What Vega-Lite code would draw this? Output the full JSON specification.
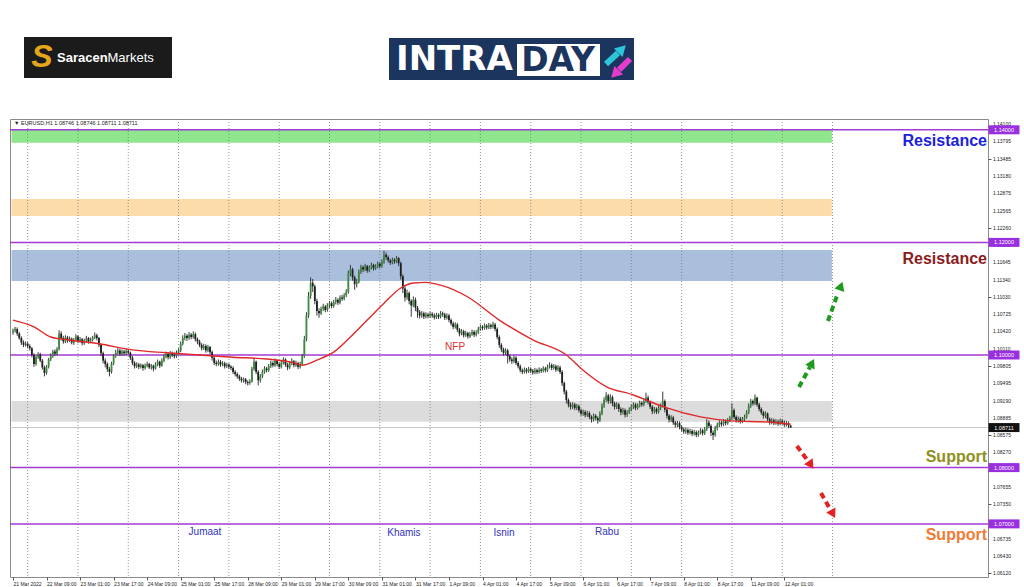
{
"$schema":"https://vega.github.io/schema/vega-lite/v6.json",
"width":978,"height":458,
"autosize":{"type":"none"},
"padding":{"left":10,"top":119,"right":36,"bottom":10},
"background":"white",
"config":{"view":{"stroke":"#8a8a8a","strokeWidth":1},"font":"Liberation Sans"},
"resolve":{"scale":{"color":"independent"}},
"datasets":{
"zones":[{"zone":"green","x1":-0.7,"x2":390.7,"y1":1.14,"y2":1.1377},{"zone":"orange","x1":-0.7,"x2":390.7,"y1":1.12771,"y2":1.12469},{"zone":"blue","x1":-0.7,"x2":390.7,"y1":1.11865,"y2":1.11314},{"zone":"gray","x1":-0.7,"x2":390.7,"y1":1.09183,"y2":1.08815}],
"grid":[{"i":7},{"i":31},{"i":55},{"i":79},{"i":103},{"i":127},{"i":151},{"i":175},{"i":199},{"i":223},{"i":247},{"i":271},{"i":295},{"i":319},{"i":343},{"i":367},{"i":391}],
"levels":[{"v":1.14,"t":"1.14000"},{"v":1.12,"t":"1.12000"},{"v":1.10,"t":"1.10000"},{"v":1.08,"t":"1.08000"},{"v":1.07,"t":"1.07000"}],
"yticks":[{"v":1.0612},{"v":1.0643},{"v":1.06735},{"v":1.0704},{"v":1.0735},{"v":1.07655},{"v":1.0796},{"v":1.0827},{"v":1.08575},{"v":1.08885},{"v":1.0919},{"v":1.09495},{"v":1.09805},{"v":1.1011},{"v":1.1042},{"v":1.10725},{"v":1.1103},{"v":1.1134},{"v":1.11645},{"v":1.11955},{"v":1.1226},{"v":1.12565},{"v":1.12875},{"v":1.1318},{"v":1.13485},{"v":1.13795},{"v":1.141}],
"ma":[{"i":0,"v":1.1062},{"i":10,"v":1.1050},{"i":18,"v":1.1032},{"i":26,"v":1.1027},{"i":41,"v":1.1020},{"i":57,"v":1.1009},{"i":73,"v":1.1004},{"i":89,"v":1.1000},{"i":105,"v":1.0996},{"i":121,"v":1.0993},{"i":134,"v":1.0986},{"i":138,"v":1.0982},{"i":145,"v":1.0991},{"i":153,"v":1.1005},{"i":161,"v":1.1032},{"i":169,"v":1.1062},{"i":177,"v":1.1092},{"i":185,"v":1.1119},{"i":191,"v":1.1128},{"i":197,"v":1.1129},{"i":204,"v":1.1124},{"i":217,"v":1.1103},{"i":232,"v":1.1062},{"i":248,"v":1.1027},{"i":264,"v":1.1000},{"i":272,"v":1.0973},{"i":283,"v":1.0944},{"i":296,"v":1.0929},{"i":304,"v":1.0917},{"i":312,"v":1.0906},{"i":328,"v":1.0890},{"i":343,"v":1.0883},{"i":360,"v":1.0881},{"i":371,"v":1.0877}],
"candles":[
{"i":0,"o":1.1040,"h":1.1047,"l":1.1036,"c":1.1043},
{"i":1,"o":1.1043,"h":1.1050,"l":1.1040,"c":1.1046},
{"i":2,"o":1.1046,"h":1.1049,"l":1.1034,"c":1.1038},
{"i":3,"o":1.1038,"h":1.1041,"l":1.1027,"c":1.1030},
{"i":4,"o":1.1030,"h":1.1033,"l":1.1018,"c":1.1022},
{"i":5,"o":1.1022,"h":1.1026,"l":1.1014,"c":1.1018},
{"i":6,"o":1.1018,"h":1.1024,"l":1.1015,"c":1.1020},
{"i":7,"o":1.1020,"h":1.1023,"l":1.1012,"c":1.1016},
{"i":8,"o":1.1016,"h":1.1019,"l":1.1008,"c":1.1012},
{"i":9,"o":1.1012,"h":1.1014,"l":1.0996,"c":1.1000},
{"i":10,"o":1.1000,"h":1.1003,"l":1.0979,"c":1.0984},
{"i":11,"o":1.0984,"h":1.0999,"l":1.0981,"c":1.0996},
{"i":12,"o":1.0996,"h":1.1005,"l":1.0993,"c":1.1001},
{"i":13,"o":1.1001,"h":1.1004,"l":1.0987,"c":1.0990},
{"i":14,"o":1.0990,"h":1.0993,"l":1.0974,"c":1.0978},
{"i":15,"o":1.0978,"h":1.0981,"l":1.0962,"c":1.0968},
{"i":16,"o":1.0968,"h":1.0982,"l":1.0965,"c":1.0979},
{"i":17,"o":1.0979,"h":1.0995,"l":1.0976,"c":1.0992},
{"i":18,"o":1.0992,"h":1.1003,"l":1.0989,"c":1.0998},
{"i":19,"o":1.0998,"h":1.1009,"l":1.0995,"c":1.1006},
{"i":20,"o":1.1006,"h":1.1010,"l":1.0998,"c":1.1002},
{"i":21,"o":1.1002,"h":1.1014,"l":1.0999,"c":1.1010},
{"i":22,"o":1.1010,"h":1.1044,"l":1.1008,"c":1.1038},
{"i":23,"o":1.1038,"h":1.1042,"l":1.1026,"c":1.1030},
{"i":24,"o":1.1030,"h":1.1034,"l":1.1020,"c":1.1024},
{"i":25,"o":1.1024,"h":1.1035,"l":1.1021,"c":1.1031},
{"i":26,"o":1.1031,"h":1.1034,"l":1.1022,"c":1.1026},
{"i":27,"o":1.1026,"h":1.1033,"l":1.1023,"c":1.1029},
{"i":28,"o":1.1029,"h":1.1031,"l":1.1019,"c":1.1022},
{"i":29,"o":1.1022,"h":1.1030,"l":1.1018,"c":1.1027},
{"i":30,"o":1.1027,"h":1.1037,"l":1.1024,"c":1.1033},
{"i":31,"o":1.1033,"h":1.1035,"l":1.1021,"c":1.1025},
{"i":32,"o":1.1025,"h":1.1032,"l":1.1022,"c":1.1028},
{"i":33,"o":1.1028,"h":1.1030,"l":1.1017,"c":1.1021},
{"i":34,"o":1.1021,"h":1.1029,"l":1.1018,"c":1.1026},
{"i":35,"o":1.1026,"h":1.1034,"l":1.1023,"c":1.1030},
{"i":36,"o":1.1030,"h":1.1032,"l":1.1020,"c":1.1024},
{"i":37,"o":1.1024,"h":1.1031,"l":1.1021,"c":1.1027},
{"i":38,"o":1.1027,"h":1.1034,"l":1.1024,"c":1.1031},
{"i":39,"o":1.1031,"h":1.1040,"l":1.1028,"c":1.1035},
{"i":40,"o":1.1035,"h":1.1038,"l":1.1026,"c":1.1030},
{"i":41,"o":1.1030,"h":1.1032,"l":1.1014,"c":1.1018},
{"i":42,"o":1.1018,"h":1.1020,"l":1.0998,"c":1.1003},
{"i":43,"o":1.1003,"h":1.1006,"l":1.0985,"c":1.0990},
{"i":44,"o":1.0990,"h":1.0994,"l":1.0978,"c":1.0984},
{"i":45,"o":1.0984,"h":1.0987,"l":1.0970,"c":1.0975},
{"i":46,"o":1.0975,"h":1.0979,"l":1.0962,"c":1.0970},
{"i":47,"o":1.0970,"h":1.0988,"l":1.0967,"c":1.0985},
{"i":48,"o":1.0985,"h":1.1001,"l":1.0982,"c":1.0998},
{"i":49,"o":1.0998,"h":1.1009,"l":1.0995,"c":1.1004},
{"i":50,"o":1.1004,"h":1.1012,"l":1.1000,"c":1.1008},
{"i":51,"o":1.1008,"h":1.1011,"l":1.0998,"c":1.1002},
{"i":52,"o":1.1002,"h":1.1010,"l":1.0999,"c":1.1006},
{"i":53,"o":1.1006,"h":1.1009,"l":1.0999,"c":1.1003},
{"i":54,"o":1.1003,"h":1.1011,"l":1.1000,"c":1.1007},
{"i":55,"o":1.1007,"h":1.1010,"l":1.1001,"c":1.1004},
{"i":56,"o":1.1004,"h":1.1006,"l":1.0991,"c":1.0995},
{"i":57,"o":1.0995,"h":1.0998,"l":1.0982,"c":1.0986},
{"i":58,"o":1.0986,"h":1.0989,"l":1.0976,"c":1.0980},
{"i":59,"o":1.0980,"h":1.0987,"l":1.0977,"c":1.0983},
{"i":60,"o":1.0983,"h":1.0986,"l":1.0975,"c":1.0979},
{"i":61,"o":1.0979,"h":1.0985,"l":1.0976,"c":1.0982},
{"i":62,"o":1.0982,"h":1.0984,"l":1.0972,"c":1.0977},
{"i":63,"o":1.0977,"h":1.0985,"l":1.0974,"c":1.0981},
{"i":64,"o":1.0981,"h":1.0988,"l":1.0978,"c":1.0984},
{"i":65,"o":1.0984,"h":1.0986,"l":1.0975,"c":1.0978},
{"i":66,"o":1.0978,"h":1.0984,"l":1.0974,"c":1.0981},
{"i":67,"o":1.0981,"h":1.0983,"l":1.0971,"c":1.0976},
{"i":68,"o":1.0976,"h":1.0987,"l":1.0974,"c":1.0983},
{"i":69,"o":1.0983,"h":1.0992,"l":1.0980,"c":1.0988},
{"i":70,"o":1.0988,"h":1.0990,"l":1.0977,"c":1.0981},
{"i":71,"o":1.0981,"h":1.0994,"l":1.0979,"c":1.0990},
{"i":72,"o":1.0990,"h":1.1001,"l":1.0987,"c":1.0997},
{"i":73,"o":1.0997,"h":1.1006,"l":1.0994,"c":1.1002},
{"i":74,"o":1.1002,"h":1.1005,"l":1.0992,"c":1.0996},
{"i":75,"o":1.0996,"h":1.1007,"l":1.0993,"c":1.1003},
{"i":76,"o":1.1003,"h":1.1006,"l":1.0996,"c":1.1000},
{"i":77,"o":1.1000,"h":1.1004,"l":1.0994,"c":1.0998},
{"i":78,"o":1.0998,"h":1.1008,"l":1.0995,"c":1.1004},
{"i":79,"o":1.1004,"h":1.1012,"l":1.1001,"c":1.1008},
{"i":80,"o":1.1008,"h":1.1024,"l":1.1005,"c":1.1020},
{"i":81,"o":1.1020,"h":1.1035,"l":1.1017,"c":1.1030},
{"i":82,"o":1.1030,"h":1.1039,"l":1.1026,"c":1.1034},
{"i":83,"o":1.1034,"h":1.1037,"l":1.1025,"c":1.1030},
{"i":84,"o":1.1030,"h":1.1041,"l":1.1027,"c":1.1036},
{"i":85,"o":1.1036,"h":1.1039,"l":1.1028,"c":1.1032},
{"i":86,"o":1.1032,"h":1.1042,"l":1.1029,"c":1.1037},
{"i":87,"o":1.1037,"h":1.1040,"l":1.1024,"c":1.1028},
{"i":88,"o":1.1028,"h":1.1031,"l":1.1019,"c":1.1024},
{"i":89,"o":1.1024,"h":1.1027,"l":1.1014,"c":1.1018},
{"i":90,"o":1.1018,"h":1.1021,"l":1.1008,"c":1.1012},
{"i":91,"o":1.1012,"h":1.1020,"l":1.1009,"c":1.1016},
{"i":92,"o":1.1016,"h":1.1019,"l":1.1004,"c":1.1008},
{"i":93,"o":1.1008,"h":1.1018,"l":1.1005,"c":1.1014},
{"i":94,"o":1.1014,"h":1.1016,"l":1.1001,"c":1.1005},
{"i":95,"o":1.1005,"h":1.1008,"l":1.0990,"c":1.0995},
{"i":96,"o":1.0995,"h":1.0998,"l":1.0982,"c":1.0986},
{"i":97,"o":1.0986,"h":1.0990,"l":1.0980,"c":1.0984},
{"i":98,"o":1.0984,"h":1.0992,"l":1.0981,"c":1.0988},
{"i":99,"o":1.0988,"h":1.0991,"l":1.0979,"c":1.0983},
{"i":100,"o":1.0983,"h":1.0989,"l":1.0980,"c":1.0985},
{"i":101,"o":1.0985,"h":1.0988,"l":1.0976,"c":1.0980},
{"i":102,"o":1.0980,"h":1.0986,"l":1.0977,"c":1.0983},
{"i":103,"o":1.0983,"h":1.0985,"l":1.0975,"c":1.0979},
{"i":104,"o":1.0979,"h":1.0982,"l":1.0973,"c":1.0977},
{"i":105,"o":1.0977,"h":1.0980,"l":1.0966,"c":1.0970},
{"i":106,"o":1.0970,"h":1.0973,"l":1.0962,"c":1.0966},
{"i":107,"o":1.0966,"h":1.0969,"l":1.0958,"c":1.0962},
{"i":108,"o":1.0962,"h":1.0965,"l":1.0954,"c":1.0958},
{"i":109,"o":1.0958,"h":1.0961,"l":1.0951,"c":1.0955},
{"i":110,"o":1.0955,"h":1.0960,"l":1.0951,"c":1.0957},
{"i":111,"o":1.0957,"h":1.0959,"l":1.0948,"c":1.0952},
{"i":112,"o":1.0952,"h":1.0955,"l":1.0946,"c":1.0950},
{"i":113,"o":1.0950,"h":1.0957,"l":1.0947,"c":1.0953},
{"i":114,"o":1.0953,"h":1.0979,"l":1.0951,"c":1.0975},
{"i":115,"o":1.0975,"h":1.0994,"l":1.0972,"c":1.0988},
{"i":116,"o":1.0988,"h":1.0990,"l":1.0966,"c":1.0970},
{"i":117,"o":1.0970,"h":1.0973,"l":1.0946,"c":1.0955},
{"i":118,"o":1.0955,"h":1.0966,"l":1.0951,"c":1.0962},
{"i":119,"o":1.0962,"h":1.0974,"l":1.0959,"c":1.0970},
{"i":120,"o":1.0970,"h":1.0980,"l":1.0967,"c":1.0976},
{"i":121,"o":1.0976,"h":1.0979,"l":1.0969,"c":1.0973},
{"i":122,"o":1.0973,"h":1.0984,"l":1.0970,"c":1.0980},
{"i":123,"o":1.0980,"h":1.0990,"l":1.0977,"c":1.0986},
{"i":124,"o":1.0986,"h":1.0989,"l":1.0978,"c":1.0982},
{"i":125,"o":1.0982,"h":1.0994,"l":1.0979,"c":1.0990},
{"i":126,"o":1.0990,"h":1.0992,"l":1.0980,"c":1.0984},
{"i":127,"o":1.0984,"h":1.0987,"l":1.0975,"c":1.0979},
{"i":128,"o":1.0979,"h":1.0990,"l":1.0976,"c":1.0986},
{"i":129,"o":1.0986,"h":1.0996,"l":1.0983,"c":1.0992},
{"i":130,"o":1.0992,"h":1.0994,"l":1.0979,"c":1.0983},
{"i":131,"o":1.0983,"h":1.0986,"l":1.0973,"c":1.0978},
{"i":132,"o":1.0978,"h":1.0989,"l":1.0975,"c":1.0985},
{"i":133,"o":1.0985,"h":1.0994,"l":1.0982,"c":1.0989},
{"i":134,"o":1.0989,"h":1.0991,"l":1.0978,"c":1.0982},
{"i":135,"o":1.0982,"h":1.0990,"l":1.0979,"c":1.0986},
{"i":136,"o":1.0986,"h":1.0988,"l":1.0975,"c":1.0979},
{"i":137,"o":1.0979,"h":1.0988,"l":1.0976,"c":1.0984},
{"i":138,"o":1.0984,"h":1.1002,"l":1.0981,"c":1.0998},
{"i":139,"o":1.0998,"h":1.1034,"l":1.0995,"c":1.1028},
{"i":140,"o":1.1028,"h":1.1076,"l":1.1024,"c":1.1070},
{"i":141,"o":1.1070,"h":1.1112,"l":1.1066,"c":1.1105},
{"i":142,"o":1.1105,"h":1.1138,"l":1.1100,"c":1.1128},
{"i":143,"o":1.1128,"h":1.1135,"l":1.1112,"c":1.1122},
{"i":144,"o":1.1122,"h":1.1125,"l":1.1090,"c":1.1096},
{"i":145,"o":1.1096,"h":1.1100,"l":1.1070,"c":1.1078},
{"i":146,"o":1.1078,"h":1.1083,"l":1.1066,"c":1.1074},
{"i":147,"o":1.1074,"h":1.1086,"l":1.1071,"c":1.1082},
{"i":148,"o":1.1082,"h":1.1091,"l":1.1078,"c":1.1086},
{"i":149,"o":1.1086,"h":1.1089,"l":1.1076,"c":1.1080},
{"i":150,"o":1.1080,"h":1.1092,"l":1.1077,"c":1.1088},
{"i":151,"o":1.1088,"h":1.1096,"l":1.1084,"c":1.1092},
{"i":152,"o":1.1092,"h":1.1095,"l":1.1083,"c":1.1087},
{"i":153,"o":1.1087,"h":1.1098,"l":1.1084,"c":1.1094},
{"i":154,"o":1.1094,"h":1.1103,"l":1.1090,"c":1.1098},
{"i":155,"o":1.1098,"h":1.1101,"l":1.1089,"c":1.1093},
{"i":156,"o":1.1093,"h":1.1106,"l":1.1090,"c":1.1102},
{"i":157,"o":1.1102,"h":1.1107,"l":1.1096,"c":1.1100},
{"i":158,"o":1.1100,"h":1.1110,"l":1.1097,"c":1.1106},
{"i":159,"o":1.1106,"h":1.1117,"l":1.1103,"c":1.1112},
{"i":160,"o":1.1112,"h":1.1150,"l":1.1109,"c":1.1145},
{"i":161,"o":1.1145,"h":1.1160,"l":1.1140,"c":1.1152},
{"i":162,"o":1.1152,"h":1.1155,"l":1.1132,"c":1.1138},
{"i":163,"o":1.1138,"h":1.1141,"l":1.1116,"c":1.1126},
{"i":164,"o":1.1126,"h":1.1135,"l":1.1120,"c":1.1130},
{"i":165,"o":1.1130,"h":1.1152,"l":1.1127,"c":1.1148},
{"i":166,"o":1.1148,"h":1.1160,"l":1.1144,"c":1.1156},
{"i":167,"o":1.1156,"h":1.1159,"l":1.1147,"c":1.1152},
{"i":168,"o":1.1152,"h":1.1162,"l":1.1149,"c":1.1158},
{"i":169,"o":1.1158,"h":1.1160,"l":1.1146,"c":1.1150},
{"i":170,"o":1.1150,"h":1.1159,"l":1.1147,"c":1.1155},
{"i":171,"o":1.1155,"h":1.1164,"l":1.1152,"c":1.1160},
{"i":172,"o":1.1160,"h":1.1162,"l":1.1150,"c":1.1154},
{"i":173,"o":1.1154,"h":1.1161,"l":1.1151,"c":1.1157},
{"i":174,"o":1.1157,"h":1.1166,"l":1.1154,"c":1.1162},
{"i":175,"o":1.1162,"h":1.1165,"l":1.1154,"c":1.1158},
{"i":176,"o":1.1158,"h":1.1170,"l":1.1155,"c":1.1165},
{"i":177,"o":1.1165,"h":1.1185,"l":1.1162,"c":1.1178},
{"i":178,"o":1.1178,"h":1.1182,"l":1.1169,"c":1.1174},
{"i":179,"o":1.1174,"h":1.1177,"l":1.1164,"c":1.1168},
{"i":180,"o":1.1168,"h":1.1171,"l":1.1160,"c":1.1164},
{"i":181,"o":1.1164,"h":1.1173,"l":1.1161,"c":1.1169},
{"i":182,"o":1.1169,"h":1.1172,"l":1.1162,"c":1.1166},
{"i":183,"o":1.1166,"h":1.1176,"l":1.1163,"c":1.1172},
{"i":184,"o":1.1172,"h":1.1174,"l":1.1158,"c":1.1163},
{"i":185,"o":1.1163,"h":1.1166,"l":1.1134,"c":1.1140},
{"i":186,"o":1.1140,"h":1.1143,"l":1.1110,"c":1.1118},
{"i":187,"o":1.1118,"h":1.1122,"l":1.1095,"c":1.1102},
{"i":188,"o":1.1102,"h":1.1116,"l":1.1098,"c":1.1110},
{"i":189,"o":1.1110,"h":1.1113,"l":1.1090,"c":1.1096},
{"i":190,"o":1.1096,"h":1.1099,"l":1.1068,"c":1.1088},
{"i":191,"o":1.1088,"h":1.1104,"l":1.1085,"c":1.1098},
{"i":192,"o":1.1098,"h":1.1102,"l":1.1078,"c":1.1084},
{"i":193,"o":1.1084,"h":1.1087,"l":1.1066,"c":1.1076},
{"i":194,"o":1.1076,"h":1.1080,"l":1.1065,"c":1.1070},
{"i":195,"o":1.1070,"h":1.1078,"l":1.1066,"c":1.1074},
{"i":196,"o":1.1074,"h":1.1077,"l":1.1064,"c":1.1068},
{"i":197,"o":1.1068,"h":1.1076,"l":1.1065,"c":1.1072},
{"i":198,"o":1.1072,"h":1.1075,"l":1.1065,"c":1.1069},
{"i":199,"o":1.1069,"h":1.1077,"l":1.1066,"c":1.1073},
{"i":200,"o":1.1073,"h":1.1076,"l":1.1066,"c":1.1070},
{"i":201,"o":1.1070,"h":1.1074,"l":1.1063,"c":1.1067},
{"i":202,"o":1.1067,"h":1.1075,"l":1.1064,"c":1.1071},
{"i":203,"o":1.1071,"h":1.1074,"l":1.1064,"c":1.1068},
{"i":204,"o":1.1068,"h":1.1078,"l":1.1065,"c":1.1074},
{"i":205,"o":1.1074,"h":1.1077,"l":1.1068,"c":1.1072},
{"i":206,"o":1.1072,"h":1.1075,"l":1.1062,"c":1.1066},
{"i":207,"o":1.1066,"h":1.1074,"l":1.1063,"c":1.1070},
{"i":208,"o":1.1070,"h":1.1073,"l":1.1058,"c":1.1062},
{"i":209,"o":1.1062,"h":1.1065,"l":1.1052,"c":1.1056},
{"i":210,"o":1.1056,"h":1.1059,"l":1.1046,"c":1.1050},
{"i":211,"o":1.1050,"h":1.1058,"l":1.1047,"c":1.1054},
{"i":212,"o":1.1054,"h":1.1057,"l":1.1041,"c":1.1045},
{"i":213,"o":1.1045,"h":1.1048,"l":1.1033,"c":1.1038},
{"i":214,"o":1.1038,"h":1.1046,"l":1.1035,"c":1.1042},
{"i":215,"o":1.1042,"h":1.1045,"l":1.1031,"c":1.1035},
{"i":216,"o":1.1035,"h":1.1043,"l":1.1032,"c":1.1039},
{"i":217,"o":1.1039,"h":1.1041,"l":1.1029,"c":1.1033},
{"i":218,"o":1.1033,"h":1.1041,"l":1.1030,"c":1.1037},
{"i":219,"o":1.1037,"h":1.1045,"l":1.1034,"c":1.1041},
{"i":220,"o":1.1041,"h":1.1044,"l":1.1032,"c":1.1036},
{"i":221,"o":1.1036,"h":1.1044,"l":1.1033,"c":1.1040},
{"i":222,"o":1.1040,"h":1.1050,"l":1.1037,"c":1.1046},
{"i":223,"o":1.1046,"h":1.1054,"l":1.1043,"c":1.1050},
{"i":224,"o":1.1050,"h":1.1053,"l":1.1044,"c":1.1048},
{"i":225,"o":1.1048,"h":1.1056,"l":1.1045,"c":1.1052},
{"i":226,"o":1.1052,"h":1.1055,"l":1.1045,"c":1.1049},
{"i":227,"o":1.1049,"h":1.1057,"l":1.1046,"c":1.1053},
{"i":228,"o":1.1053,"h":1.1056,"l":1.1046,"c":1.1050},
{"i":229,"o":1.1050,"h":1.1059,"l":1.1047,"c":1.1054},
{"i":230,"o":1.1054,"h":1.1057,"l":1.1042,"c":1.1046},
{"i":231,"o":1.1046,"h":1.1049,"l":1.1028,"c":1.1032},
{"i":232,"o":1.1032,"h":1.1035,"l":1.1013,"c":1.1018},
{"i":233,"o":1.1018,"h":1.1021,"l":1.1005,"c":1.1010},
{"i":234,"o":1.1010,"h":1.1013,"l":1.0999,"c":1.1004},
{"i":235,"o":1.1004,"h":1.1012,"l":1.1000,"c":1.1008},
{"i":236,"o":1.1008,"h":1.1011,"l":1.0985,"c":1.0998},
{"i":237,"o":1.0998,"h":1.1001,"l":1.0988,"c":1.0992},
{"i":238,"o":1.0992,"h":1.0996,"l":1.0984,"c":1.0989},
{"i":239,"o":1.0989,"h":1.0999,"l":1.0986,"c":1.0995},
{"i":240,"o":1.0995,"h":1.0998,"l":1.0982,"c":1.0986},
{"i":241,"o":1.0986,"h":1.0989,"l":1.0976,"c":1.0980},
{"i":242,"o":1.0980,"h":1.0983,"l":1.0969,"c":1.0973},
{"i":243,"o":1.0973,"h":1.0976,"l":1.0966,"c":1.0970},
{"i":244,"o":1.0970,"h":1.0978,"l":1.0967,"c":1.0974},
{"i":245,"o":1.0974,"h":1.0977,"l":1.0967,"c":1.0971},
{"i":246,"o":1.0971,"h":1.0979,"l":1.0968,"c":1.0975},
{"i":247,"o":1.0975,"h":1.0978,"l":1.0968,"c":1.0972},
{"i":248,"o":1.0972,"h":1.0975,"l":1.0965,"c":1.0969},
{"i":249,"o":1.0969,"h":1.0977,"l":1.0966,"c":1.0973},
{"i":250,"o":1.0973,"h":1.0976,"l":1.0966,"c":1.0970},
{"i":251,"o":1.0970,"h":1.0978,"l":1.0967,"c":1.0974},
{"i":252,"o":1.0974,"h":1.0977,"l":1.0968,"c":1.0972},
{"i":253,"o":1.0972,"h":1.0980,"l":1.0969,"c":1.0976},
{"i":254,"o":1.0976,"h":1.0979,"l":1.0969,"c":1.0973},
{"i":255,"o":1.0973,"h":1.0983,"l":1.0970,"c":1.0979},
{"i":256,"o":1.0979,"h":1.0987,"l":1.0976,"c":1.0982},
{"i":257,"o":1.0982,"h":1.0985,"l":1.0973,"c":1.0977},
{"i":258,"o":1.0977,"h":1.0984,"l":1.0974,"c":1.0980},
{"i":259,"o":1.0980,"h":1.0983,"l":1.0970,"c":1.0974},
{"i":260,"o":1.0974,"h":1.0982,"l":1.0971,"c":1.0978},
{"i":261,"o":1.0978,"h":1.0981,"l":1.0966,"c":1.0970},
{"i":262,"o":1.0970,"h":1.0973,"l":1.0945,"c":1.0950},
{"i":263,"o":1.0950,"h":1.0953,"l":1.0930,"c":1.0935},
{"i":264,"o":1.0935,"h":1.0938,"l":1.0914,"c":1.0920},
{"i":265,"o":1.0920,"h":1.0923,"l":1.0907,"c":1.0912},
{"i":266,"o":1.0912,"h":1.0916,"l":1.0903,"c":1.0908},
{"i":267,"o":1.0908,"h":1.0916,"l":1.0904,"c":1.0912},
{"i":268,"o":1.0912,"h":1.0915,"l":1.0902,"c":1.0906},
{"i":269,"o":1.0906,"h":1.0913,"l":1.0902,"c":1.0909},
{"i":270,"o":1.0909,"h":1.0912,"l":1.0898,"c":1.0902},
{"i":271,"o":1.0902,"h":1.0905,"l":1.0892,"c":1.0896},
{"i":272,"o":1.0896,"h":1.0903,"l":1.0892,"c":1.0899},
{"i":273,"o":1.0899,"h":1.0902,"l":1.0889,"c":1.0893},
{"i":274,"o":1.0893,"h":1.0901,"l":1.0890,"c":1.0897},
{"i":275,"o":1.0897,"h":1.0900,"l":1.0886,"c":1.0890},
{"i":276,"o":1.0890,"h":1.0893,"l":1.0880,"c":1.0886},
{"i":277,"o":1.0886,"h":1.0896,"l":1.0882,"c":1.0892},
{"i":278,"o":1.0892,"h":1.0895,"l":1.0884,"c":1.0888},
{"i":279,"o":1.0888,"h":1.0891,"l":1.0878,"c":1.0884},
{"i":280,"o":1.0884,"h":1.0900,"l":1.0881,"c":1.0896},
{"i":281,"o":1.0896,"h":1.0914,"l":1.0893,"c":1.0910},
{"i":282,"o":1.0910,"h":1.0925,"l":1.0906,"c":1.0920},
{"i":283,"o":1.0920,"h":1.0934,"l":1.0916,"c":1.0928},
{"i":284,"o":1.0928,"h":1.0931,"l":1.0913,"c":1.0918},
{"i":285,"o":1.0918,"h":1.0930,"l":1.0914,"c":1.0925},
{"i":286,"o":1.0925,"h":1.0928,"l":1.0909,"c":1.0914},
{"i":287,"o":1.0914,"h":1.0917,"l":1.0903,"c":1.0908},
{"i":288,"o":1.0908,"h":1.0916,"l":1.0904,"c":1.0912},
{"i":289,"o":1.0912,"h":1.0915,"l":1.0899,"c":1.0904},
{"i":290,"o":1.0904,"h":1.0907,"l":1.0893,"c":1.0898},
{"i":291,"o":1.0898,"h":1.0906,"l":1.0894,"c":1.0902},
{"i":292,"o":1.0902,"h":1.0905,"l":1.0889,"c":1.0894},
{"i":293,"o":1.0894,"h":1.0902,"l":1.0890,"c":1.0898},
{"i":294,"o":1.0898,"h":1.0907,"l":1.0895,"c":1.0903},
{"i":295,"o":1.0903,"h":1.0912,"l":1.0900,"c":1.0908},
{"i":296,"o":1.0908,"h":1.0916,"l":1.0904,"c":1.0912},
{"i":297,"o":1.0912,"h":1.0915,"l":1.0902,"c":1.0906},
{"i":298,"o":1.0906,"h":1.0914,"l":1.0903,"c":1.0910},
{"i":299,"o":1.0910,"h":1.0919,"l":1.0907,"c":1.0915},
{"i":300,"o":1.0915,"h":1.0918,"l":1.0908,"c":1.0912},
{"i":301,"o":1.0912,"h":1.0922,"l":1.0909,"c":1.0918},
{"i":302,"o":1.0918,"h":1.0933,"l":1.0915,"c":1.0924},
{"i":303,"o":1.0924,"h":1.0928,"l":1.0912,"c":1.0916},
{"i":304,"o":1.0916,"h":1.0919,"l":1.0904,"c":1.0908},
{"i":305,"o":1.0908,"h":1.0911,"l":1.0895,"c":1.0900},
{"i":306,"o":1.0900,"h":1.0908,"l":1.0896,"c":1.0904},
{"i":307,"o":1.0904,"h":1.0907,"l":1.0895,"c":1.0899},
{"i":308,"o":1.0899,"h":1.0910,"l":1.0896,"c":1.0906},
{"i":309,"o":1.0906,"h":1.0914,"l":1.0902,"c":1.0910},
{"i":310,"o":1.0910,"h":1.0935,"l":1.0907,"c":1.0918},
{"i":311,"o":1.0918,"h":1.0921,"l":1.0898,"c":1.0903},
{"i":312,"o":1.0903,"h":1.0906,"l":1.0887,"c":1.0892},
{"i":313,"o":1.0892,"h":1.0895,"l":1.0880,"c":1.0885},
{"i":314,"o":1.0885,"h":1.0893,"l":1.0881,"c":1.0889},
{"i":315,"o":1.0889,"h":1.0892,"l":1.0876,"c":1.0880},
{"i":316,"o":1.0880,"h":1.0883,"l":1.0871,"c":1.0876},
{"i":317,"o":1.0876,"h":1.0883,"l":1.0872,"c":1.0879},
{"i":318,"o":1.0879,"h":1.0882,"l":1.0868,"c":1.0872},
{"i":319,"o":1.0872,"h":1.0875,"l":1.0864,"c":1.0868},
{"i":320,"o":1.0868,"h":1.0871,"l":1.0860,"c":1.0864},
{"i":321,"o":1.0864,"h":1.0871,"l":1.0860,"c":1.0867},
{"i":322,"o":1.0867,"h":1.0870,"l":1.0858,"c":1.0862},
{"i":323,"o":1.0862,"h":1.0869,"l":1.0859,"c":1.0865},
{"i":324,"o":1.0865,"h":1.0868,"l":1.0856,"c":1.0860},
{"i":325,"o":1.0860,"h":1.0867,"l":1.0857,"c":1.0863},
{"i":326,"o":1.0863,"h":1.0866,"l":1.0854,"c":1.0858},
{"i":327,"o":1.0858,"h":1.0866,"l":1.0855,"c":1.0862},
{"i":328,"o":1.0862,"h":1.0870,"l":1.0859,"c":1.0866},
{"i":329,"o":1.0866,"h":1.0869,"l":1.0857,"c":1.0861},
{"i":330,"o":1.0861,"h":1.0872,"l":1.0858,"c":1.0868},
{"i":331,"o":1.0868,"h":1.0886,"l":1.0865,"c":1.0880},
{"i":332,"o":1.0880,"h":1.0884,"l":1.0870,"c":1.0874},
{"i":333,"o":1.0874,"h":1.0877,"l":1.0856,"c":1.0862},
{"i":334,"o":1.0862,"h":1.0866,"l":1.0849,"c":1.0858},
{"i":335,"o":1.0858,"h":1.0874,"l":1.0855,"c":1.0870},
{"i":336,"o":1.0870,"h":1.0880,"l":1.0866,"c":1.0876},
{"i":337,"o":1.0876,"h":1.0884,"l":1.0872,"c":1.0880},
{"i":338,"o":1.0880,"h":1.0883,"l":1.0873,"c":1.0877},
{"i":339,"o":1.0877,"h":1.0886,"l":1.0874,"c":1.0882},
{"i":340,"o":1.0882,"h":1.0885,"l":1.0875,"c":1.0879},
{"i":341,"o":1.0879,"h":1.0888,"l":1.0876,"c":1.0884},
{"i":342,"o":1.0884,"h":1.0892,"l":1.0881,"c":1.0888},
{"i":343,"o":1.0888,"h":1.0914,"l":1.0885,"c":1.0902},
{"i":344,"o":1.0902,"h":1.0905,"l":1.0886,"c":1.0890},
{"i":345,"o":1.0890,"h":1.0893,"l":1.0880,"c":1.0884},
{"i":346,"o":1.0884,"h":1.0891,"l":1.0880,"c":1.0887},
{"i":347,"o":1.0887,"h":1.0890,"l":1.0878,"c":1.0882},
{"i":348,"o":1.0882,"h":1.0890,"l":1.0879,"c":1.0886},
{"i":349,"o":1.0886,"h":1.0894,"l":1.0883,"c":1.0890},
{"i":350,"o":1.0890,"h":1.0902,"l":1.0887,"c":1.0898},
{"i":351,"o":1.0898,"h":1.0914,"l":1.0895,"c":1.0910},
{"i":352,"o":1.0910,"h":1.0922,"l":1.0906,"c":1.0918},
{"i":353,"o":1.0918,"h":1.0921,"l":1.0910,"c":1.0914},
{"i":354,"o":1.0914,"h":1.0930,"l":1.0911,"c":1.0924},
{"i":355,"o":1.0924,"h":1.0926,"l":1.0908,"c":1.0912},
{"i":356,"o":1.0912,"h":1.0915,"l":1.0900,"c":1.0904},
{"i":357,"o":1.0904,"h":1.0907,"l":1.0894,"c":1.0898},
{"i":358,"o":1.0898,"h":1.0901,"l":1.0887,"c":1.0892},
{"i":359,"o":1.0892,"h":1.0900,"l":1.0888,"c":1.0896},
{"i":360,"o":1.0896,"h":1.0898,"l":1.0882,"c":1.0886},
{"i":361,"o":1.0886,"h":1.0889,"l":1.0876,"c":1.0880},
{"i":362,"o":1.0880,"h":1.0888,"l":1.0877,"c":1.0884},
{"i":363,"o":1.0884,"h":1.0887,"l":1.0875,"c":1.0879},
{"i":364,"o":1.0879,"h":1.0886,"l":1.0876,"c":1.0882},
{"i":365,"o":1.0882,"h":1.0885,"l":1.0874,"c":1.0878},
{"i":366,"o":1.0878,"h":1.0887,"l":1.0875,"c":1.0883},
{"i":367,"o":1.0883,"h":1.0886,"l":1.0876,"c":1.0880},
{"i":368,"o":1.0880,"h":1.0884,"l":1.0872,"c":1.0876},
{"i":369,"o":1.0876,"h":1.0883,"l":1.0873,"c":1.0879},
{"i":370,"o":1.0879,"h":1.0882,"l":1.0870,"c":1.0875},
{"i":371,"o":1.0875,"h":1.0875,"l":1.0871,"c":1.0871}
]
},
"layer":[
{"data":{"values":[{"i":0,"p":1.1}]},"mark":{"type":"point","opacity":0,"size":1},
 "encoding":{
  "x":{"field":"i","type":"quantitative","scale":{"domain":[-1.431,465.17],"nice":false,"zero":false},
   "axis":{"orient":"bottom","values":[0,16,32,48,64,80,96,112,128,144,160,176,192,208,224,240,256,272,288,304,320,336,352,368],
    "labelExpr":"['21 Mar 2022','22 Mar 09:00','23 Mar 01:00','23 Mar 17:00','24 Mar 09:00','25 Mar 01:00','25 Mar 17:00','28 Mar 09:00','29 Mar 01:00','29 Mar 17:00','30 Mar 09:00','31 Mar 01:00','31 Mar 17:00','1 Apr 09:00','4 Apr 01:00','4 Apr 17:00','5 Apr 09:00','6 Apr 01:00','6 Apr 17:00','7 Apr 09:00','8 Apr 01:00','8 Apr 17:00','11 Apr 09:00','12 Apr 01:00'][round(datum.value/16)]",
    "labelAlign":"left","labelBaseline":"top","labelFontSize":5,"labelColor":"#222","labelFont":"Liberation Sans","tickSize":3,"tickColor":"#555","domain":false,"grid":false,"title":null,"labelPadding":1,"labelOverlap":false,"labelFlush":false,"labels":true,"ticks":true}},
  "y":{"field":"p","type":"quantitative","scale":{"domain":[1.060568,1.141918],"nice":false,"zero":false},
   "axis":{"orient":"right","values":[1.0612,1.0643,1.06735,1.0704,1.0735,1.07655,1.0796,1.0827,1.08575,1.08885,1.0919,1.09495,1.09805,1.1011,1.1042,1.10725,1.1103,1.1134,1.11645,1.11955,1.1226,1.12565,1.12875,1.1318,1.13485,1.13795,1.141],
    "labels":false,"tickSize":3,"tickColor":"#555","domain":false,"grid":false,"title":null,"ticks":true}}
 }},
{"data":{"name":"zones"},"mark":{"type":"rect"},
 "encoding":{
  "x":{"field":"x1","type":"quantitative","scale":{"domain":[-1.431,465.17],"nice":false,"zero":false}},
  "x2":{"field":"x2"},
  "y":{"field":"y1","type":"quantitative","scale":{"domain":[1.060568,1.141918],"nice":false,"zero":false}},
  "y2":{"field":"y2"},
  "color":{"field":"zone","type":"nominal","scale":{"domain":["green","orange","blue","gray"],"range":["#90e68c","#fddcab","#aabfdc","#dcdcdc"]},"legend":null}
 }},
{"data":{"name":"grid"},"mark":{"type":"rule","strokeDash":[1,2],"color":"#7a7a7a","strokeWidth":0.8},
 "encoding":{"x":{"field":"i","type":"quantitative","scale":{"domain":[-1.431,465.17],"nice":false,"zero":false}}}},
{"data":{"values":[{"p":1.08711}]},"mark":{"type":"rule","color":"#c8c8c8","strokeWidth":1},
 "encoding":{"y":{"field":"p","type":"quantitative","scale":{"domain":[1.060568,1.141918],"nice":false,"zero":false}}}},
{"data":{"name":"levels"},"mark":{"type":"rule","color":"#a23ad4","strokeWidth":1.5},
 "encoding":{"y":{"field":"v","type":"quantitative","scale":{"domain":[1.060568,1.141918],"nice":false,"zero":false}}}},
{"data":{"name":"candles"},"mark":{"type":"rule","color":"#3a3a3a","strokeWidth":1},
 "encoding":{"x":{"field":"i","type":"quantitative","scale":{"domain":[-1.431,465.17],"nice":false,"zero":false}},
  "y":{"field":"l","type":"quantitative","scale":{"domain":[1.060568,1.141918],"nice":false,"zero":false}},
  "y2":{"field":"h"}}},
{"data":{"name":"candles"},"mark":{"type":"rule","strokeWidth":1.8,"strokeCap":"butt"},
 "encoding":{"x":{"field":"i","type":"quantitative","scale":{"domain":[-1.431,465.17],"nice":false,"zero":false}},
  "y":{"field":"o","type":"quantitative","scale":{"domain":[1.060568,1.141918],"nice":false,"zero":false}},
  "y2":{"field":"c"},
  "color":{"condition":{"test":"datum.c >= datum.o","value":"#3c8a3e"},"value":"#1e1e1e"}}},
{"data":{"name":"ma"},"mark":{"type":"line","color":"#e02828","strokeWidth":1.4,"interpolate":"monotone"},
 "encoding":{"x":{"field":"i","type":"quantitative","scale":{"domain":[-1.431,465.17],"nice":false,"zero":false}},
  "y":{"field":"v","type":"quantitative","scale":{"domain":[1.060568,1.141918],"nice":false,"zero":false}}}},
{"data":{"values":[{"id":"g1","x":375.0,"y":1.09432,"x2":380.2,"y2":1.09787},{"id":"g2","x":388.8,"y":1.10604,"x2":393.6,"y2":1.11101},{"id":"r1","x":374.0,"y":1.08384,"x2":379.3,"y2":1.08117},{"id":"r2","x":385.5,"y":1.07549,"x2":389.8,"y2":1.07265}]},
 "mark":{"type":"rule","strokeWidth":4,"strokeDash":[6,4],"strokeCap":"butt"},
 "encoding":{"x":{"field":"x","type":"quantitative","scale":{"domain":[-1.431,465.17],"nice":false,"zero":false}},
  "y":{"field":"y","type":"quantitative","scale":{"domain":[1.060568,1.141918],"nice":false,"zero":false}},
  "x2":{"field":"x2"},"y2":{"field":"y2"},
  "color":{"field":"id","type":"nominal","scale":{"domain":["g1","g2","r1","r2"],"range":["#1e9a1e","#1e9a1e","#e52222","#e52222"]},"legend":null}}},
{"data":{"values":[{"x":381.2,"y":1.09858}]},"mark":{"type":"point","shape":"triangle-up","filled":true,"opacity":1,"size":110,"angle":27,"color":"#1e9a1e"},
 "encoding":{"x":{"field":"x","type":"quantitative","scale":{"domain":[-1.431,465.17],"nice":false,"zero":false}},"y":{"field":"y","type":"quantitative","scale":{"domain":[1.060568,1.141918],"nice":false,"zero":false}}}},
{"data":{"values":[{"x":395.0,"y":1.11226}]},"mark":{"type":"point","shape":"triangle-up","filled":true,"opacity":1,"size":110,"angle":20,"color":"#1e9a1e"},
 "encoding":{"x":{"field":"x","type":"quantitative","scale":{"domain":[-1.431,465.17],"nice":false,"zero":false}},"y":{"field":"y","type":"quantitative","scale":{"domain":[1.060568,1.141918],"nice":false,"zero":false}}}},
{"data":{"values":[{"x":380.7,"y":1.08046}]},"mark":{"type":"point","shape":"triangle-up","filled":true,"opacity":1,"size":110,"angle":145,"color":"#e52222"},
 "encoding":{"x":{"field":"x","type":"quantitative","scale":{"domain":[-1.431,465.17],"nice":false,"zero":false}},"y":{"field":"y","type":"quantitative","scale":{"domain":[1.060568,1.141918],"nice":false,"zero":false}}}},
{"data":{"values":[{"x":391.2,"y":1.07176}]},"mark":{"type":"point","shape":"triangle-up","filled":true,"opacity":1,"size":110,"angle":152,"color":"#e52222"},
 "encoding":{"x":{"field":"x","type":"quantitative","scale":{"domain":[-1.431,465.17],"nice":false,"zero":false}},"y":{"field":"y","type":"quantitative","scale":{"domain":[1.060568,1.141918],"nice":false,"zero":false}}}},
{"data":{"name":"yticks"},"mark":{"type":"text","fontSize":5,"font":"Liberation Sans","color":"#222","align":"left","baseline":"middle"},
 "encoding":{"x":{"datum":467.5,"type":"quantitative","scale":{"domain":[-1.431,465.17],"nice":false,"zero":false}},
  "y":{"field":"v","type":"quantitative","scale":{"domain":[1.060568,1.141918],"nice":false,"zero":false}},
  "text":{"field":"v","type":"quantitative","format":".5f"}}},
{"data":{"name":"levels"},"mark":{"type":"tick","orient":"horizontal","size":31,"thickness":9,"color":"#9a2fe0","opacity":1},
 "encoding":{"x":{"datum":472.8,"type":"quantitative","scale":{"domain":[-1.431,465.17],"nice":false,"zero":false}},
  "y":{"field":"v","type":"quantitative","scale":{"domain":[1.060568,1.141918],"nice":false,"zero":false}}}},
{"data":{"values":[{"p":1.08711}]},"mark":{"type":"tick","orient":"horizontal","size":31,"thickness":9,"color":"#111111","opacity":1},
 "encoding":{"x":{"datum":472.8,"type":"quantitative","scale":{"domain":[-1.431,465.17],"nice":false,"zero":false}},
  "y":{"field":"p","type":"quantitative","scale":{"domain":[1.060568,1.141918],"nice":false,"zero":false}}}},
{"data":{"values":[{"v":1.14,"t":"1.14000"},{"v":1.12,"t":"1.12000"},{"v":1.10,"t":"1.10000"},{"v":1.08,"t":"1.08000"},{"v":1.07,"t":"1.07000"},{"v":1.08711,"t":"1.08711"}]},
 "mark":{"type":"text","color":"white","fontSize":5.5,"font":"Liberation Sans","align":"center","baseline":"middle"},
 "encoding":{"x":{"datum":472.8,"type":"quantitative","scale":{"domain":[-1.431,465.17],"nice":false,"zero":false}},
  "y":{"field":"v","type":"quantitative","scale":{"domain":[1.060568,1.141918],"nice":false,"zero":false}},"text":{"field":"t"}}},
{"data":{"values":[{"id":"r1","t":"Resistance","y":1.138011},{"id":"r2","t":"Resistance","y":1.117052},{"id":"s1","t":"Support","y":1.081883},{"id":"s2","t":"Support","y":1.068028}]},
 "mark":{"type":"text","fontSize":16,"fontWeight":"bold","font":"Liberation Sans","align":"right","baseline":"middle"},
 "encoding":{"x":{"datum":464.7,"type":"quantitative","scale":{"domain":[-1.431,465.17],"nice":false,"zero":false}},
  "y":{"field":"y","type":"quantitative","scale":{"domain":[1.060568,1.141918],"nice":false,"zero":false}},"text":{"field":"t"},
  "color":{"field":"id","type":"nominal","scale":{"domain":["r1","r2","s1","s2"],"range":["#1a22e0","#8b1c1c","#8f8f1a","#f07b35"]},"legend":null}}},
{"data":{"values":[{"x":210.9,"y":1.101421,"t":"NFP"}]},"mark":{"type":"text","fontSize":10,"font":"Liberation Sans","color":"#e03030","align":"center","baseline":"middle"},
 "encoding":{"x":{"field":"x","type":"quantitative","scale":{"domain":[-1.431,465.17],"nice":false,"zero":false}},"y":{"field":"y","type":"quantitative","scale":{"domain":[1.060568,1.141918],"nice":false,"zero":false}},"text":{"field":"t"}}},
{"data":{"values":[{"x":91.6,"y":1.068561,"t":"Jumaat"},{"x":186.5,"y":1.068384,"t":"Khamis"},{"x":234.3,"y":1.068384,"t":"Isnin"},{"x":283.4,"y":1.068561,"t":"Rabu"}]},
 "mark":{"type":"text","fontSize":10,"font":"Liberation Sans","color":"#3034c0","align":"center","baseline":"middle"},
 "encoding":{"x":{"field":"x","type":"quantitative","scale":{"domain":[-1.431,465.17],"nice":false,"zero":false}},"y":{"field":"y","type":"quantitative","scale":{"domain":[1.060568,1.141918],"nice":false,"zero":false}},"text":{"field":"t"}}},
{"data":{"values":[{"x":0.48,"y":1.141208,"t":"▼ EURUSD,H1  1.08746 1.08746 1.08711 1.08711"}]},
 "mark":{"type":"text","fontSize":5.5,"font":"Liberation Sans","color":"#222","align":"left","baseline":"middle"},
 "encoding":{"x":{"field":"x","type":"quantitative","scale":{"domain":[-1.431,465.17],"nice":false,"zero":false}},"y":{"field":"y","type":"quantitative","scale":{"domain":[1.060568,1.141918],"nice":false,"zero":false}},"text":{"field":"t"}}},
{"data":{"values":[{"id":"sar","x1":5.25,"x2":75.86,"y1":1.156483,"y2":1.149201},{"id":"intra","x1":179.39,"x2":296.28,"y1":1.156306,"y2":1.148845},{"id":"day","x1":240.46,"x2":280.06,"y1":1.15524,"y2":1.149556}]},
 "mark":{"type":"rect"},
 "encoding":{"x":{"field":"x1","type":"quantitative","scale":{"domain":[-1.431,465.17],"nice":false,"zero":false}},"x2":{"field":"x2"},
  "y":{"field":"y1","type":"quantitative","scale":{"domain":[1.060568,1.141918],"nice":false,"zero":false}},"y2":{"field":"y2"},
  "color":{"field":"id","type":"nominal","scale":{"domain":["sar","intra","day"],"range":["#1b1b1b","#1c355e","#ffffff"]},"legend":null}}},
{"data":{"values":[{"x":13.84,"y":1.152931,"t":"S"}]},"mark":{"type":"text","fontSize":32,"fontWeight":"bold","fontStyle":"italic","font":"Liberation Sans","color":"#e3a61c","align":"center","baseline":"middle"},
 "encoding":{"x":{"field":"x","type":"quantitative","scale":{"domain":[-1.431,465.17],"nice":false,"zero":false}},"y":{"field":"y","type":"quantitative","scale":{"domain":[1.060568,1.141918],"nice":false,"zero":false}},"text":{"field":"t"}}},
{"data":{"values":[{"x":21.0,"y":1.152753,"t":"Saracen"}]},"mark":{"type":"text","fontSize":13,"fontWeight":"bold","font":"Liberation Sans","color":"#ffffff","align":"left","baseline":"middle"},
 "encoding":{"x":{"field":"x","type":"quantitative","scale":{"domain":[-1.431,465.17],"nice":false,"zero":false}},"y":{"field":"y","type":"quantitative","scale":{"domain":[1.060568,1.141918],"nice":false,"zero":false}},"text":{"field":"t"}}},
{"data":{"values":[{"x":45.1,"y":1.152753,"t":"Markets"}]},"mark":{"type":"text","fontSize":13,"font":"Liberation Sans","color":"#ffffff","align":"left","baseline":"middle"},
 "encoding":{"x":{"field":"x","type":"quantitative","scale":{"domain":[-1.431,465.17],"nice":false,"zero":false}},"y":{"field":"y","type":"quantitative","scale":{"domain":[1.060568,1.141918],"nice":false,"zero":false}},"text":{"field":"t"}}},
{"data":{"values":[{"x":182.73,"y":1.152398,"t":"INTRA"}]},"mark":{"type":"text","fontSize":34,"fontWeight":"bold","font":"DejaVu Sans","color":"#ffffff","align":"left","baseline":"middle"},
 "encoding":{"x":{"field":"x","type":"quantitative","scale":{"domain":[-1.431,465.17],"nice":false,"zero":false}},"y":{"field":"y","type":"quantitative","scale":{"domain":[1.060568,1.141918],"nice":false,"zero":false}},"text":{"field":"t"}}},
{"data":{"values":[{"x":260.0,"y":1.15222,"t":"DAY"}]},"mark":{"type":"text","fontSize":33,"fontWeight":"bold","font":"DejaVu Sans","color":"#1c355e","align":"center","baseline":"middle"},
 "encoding":{"x":{"field":"x","type":"quantitative","scale":{"domain":[-1.431,465.17],"nice":false,"zero":false}},"y":{"field":"y","type":"quantitative","scale":{"domain":[1.060568,1.141918],"nice":false,"zero":false}},"text":{"field":"t"}}},
{"data":{"values":[{"id":"cy","x":282.92,"y":1.151687,"x2":288.65,"y2":1.153641},{"id":"mg","x":294.37,"y":1.152575,"x2":289.12,"y2":1.150622}]},
 "mark":{"type":"rule","strokeWidth":6,"strokeCap":"butt"},
 "encoding":{"x":{"field":"x","type":"quantitative","scale":{"domain":[-1.431,465.17],"nice":false,"zero":false}},
  "y":{"field":"y","type":"quantitative","scale":{"domain":[1.060568,1.141918],"nice":false,"zero":false}},
  "x2":{"field":"x2"},"y2":{"field":"y2"},
  "color":{"field":"id","type":"nominal","scale":{"domain":["cy","mg"],"range":["#2cc6d8","#e53ccb"]},"legend":null}}},
{"data":{"values":[{"x":290.55,"y":1.154352}]},"mark":{"type":"point","shape":"triangle-up","filled":true,"opacity":1,"size":150,"angle":45,"color":"#2cc6d8"},
 "encoding":{"x":{"field":"x","type":"quantitative","scale":{"domain":[-1.431,465.17],"nice":false,"zero":false}},"y":{"field":"y","type":"quantitative","scale":{"domain":[1.060568,1.141918],"nice":false,"zero":false}}}},
{"data":{"values":[{"x":287.21,"y":1.149911}]},"mark":{"type":"point","shape":"triangle-up","filled":true,"opacity":1,"size":150,"angle":225,"color":"#e53ccb"},
 "encoding":{"x":{"field":"x","type":"quantitative","scale":{"domain":[-1.431,465.17],"nice":false,"zero":false}},"y":{"field":"y","type":"quantitative","scale":{"domain":[1.060568,1.141918],"nice":false,"zero":false}}}}
]
}
